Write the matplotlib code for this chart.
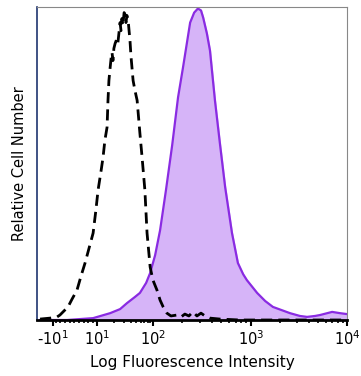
import numpy as np
import matplotlib
matplotlib.use("Agg")
import matplotlib.pyplot as plt

# display channel (0-1000) on the biexponential axis, relative counts (peak = 100)
stained_x = [10, 97, 181, 236, 268, 290, 316, 332, 352, 365, 381, 397, 416, 436, 455, 471,
             494, 507, 519, 529, 536, 548, 558, 574, 590, 607, 629, 648, 665, 677, 710,
             736, 761, 816, 848, 871, 897, 913, 952, 977, 1000]
stained_y = [0, 0, 0.6, 2.2, 3.5, 5.4, 7.4, 8.7, 11.9, 15.1, 20.8, 28.8, 41.7, 56.1, 71.5,
             81.1, 95.5, 98.7, 100, 99.4, 97.1, 92.0, 86.5, 70.5, 56.7, 42.6, 27.9, 18.3,
             14.7, 12.8, 8.7, 6.1, 4.2, 2.2, 1.3, 1.0, 1.3, 1.6, 2.6, 2.2, 1.9]

control_x = [10, 42, 65, 74, 87, 100, 113, 129, 142, 155, 168, 181, 190, 197, 207, 213, 219,
             226, 229, 232, 236, 239, 242, 245, 248, 252, 258, 261, 268, 271, 274, 277, 281,
             284, 287, 290, 294, 297, 300, 303, 310, 316, 323, 332, 339, 348, 355, 365, 374,
             387, 397, 407, 419, 432, 452, 465, 477, 490, 503, 516, 529, 542, 558, 590, 655,
             1000]
control_y = [0.3, 0.6, 1.0, 1.6, 2.9, 4.2, 6.7, 9.6, 14.1, 18.3, 23.1, 27.9, 35.3, 41.7,
             48.1, 52.2, 57.7, 61.9, 70.5, 76.9, 81.1, 84.0, 85.9, 83.3, 87.2, 88.8, 90.4,
             89.1, 95.5, 92.9, 96.8, 94.6, 98.7, 98.1, 95.5, 97.8, 96.2, 92.9, 89.7, 84.9,
             76.9, 73.7, 70.5, 59.9, 52.2, 41.7, 27.9, 17.0, 12.8, 9.6, 6.4, 4.2, 2.2, 1.3,
             1.6, 1.0, 1.9, 1.3, 2.6, 1.3, 2.2, 1.3, 0.6, 0.3, 0, 0]

tick_pos = [52, 194, 374, 690, 1000]
tick_labels = ["-$10^1$", "$10^1$", "$10^2$", "$10^3$", "$10^4$"]

fig = plt.figure(figsize=(3.61, 3.76), dpi=100)
ax = fig.add_axes([37 / 361, 56 / 376, 310 / 361, 313 / 376])

ax.fill_between(stained_x, stained_y, color="#d6b4f8", zorder=1)
ax.plot(stained_x, stained_y, color="#8a2be2", lw=1.6, zorder=2)
ax.plot(control_x, control_y, color="black", lw=2.0, dashes=(4, 2.2), zorder=3)

ax.set_xlim(0, 1000)
ax.set_ylim(0, 100.5)
ax.set_yticks([])

# minor ticks, log spaced in each decade plus a few around zero
minor = [60, 75, 90, 105, 120, 135, 150, 165, 180]
for a, b in zip(tick_pos[1:-1], tick_pos[2:]):
    for m in range(2, 10):
        minor.append(a + np.log10(m) * (b - a))
ax.set_xticks(tick_pos)
ax.set_xticklabels(tick_labels, fontsize=10.5)
ax.set_xticks(minor, minor=True)
ax.tick_params(axis="x", which="major", direction="out", length=4, width=1.5, pad=3)
ax.tick_params(axis="x", which="minor", direction="out", length=2.5, width=1.2)

ax.spines["bottom"].set_linewidth(2)
ax.spines["bottom"].set_color("black")
ax.spines["left"].set_color("#1f3570")
ax.spines["left"].set_linewidth(1.2)
ax.spines["top"].set_color("#888888")
ax.spines["right"].set_color("#888888")

ax.set_xlabel("Log Fluorescence Intensity", fontsize=11, labelpad=5)
ax.set_ylabel("Relative Cell Number", fontsize=10.5, labelpad=7)

fig.savefig("out.png", dpi=100)
